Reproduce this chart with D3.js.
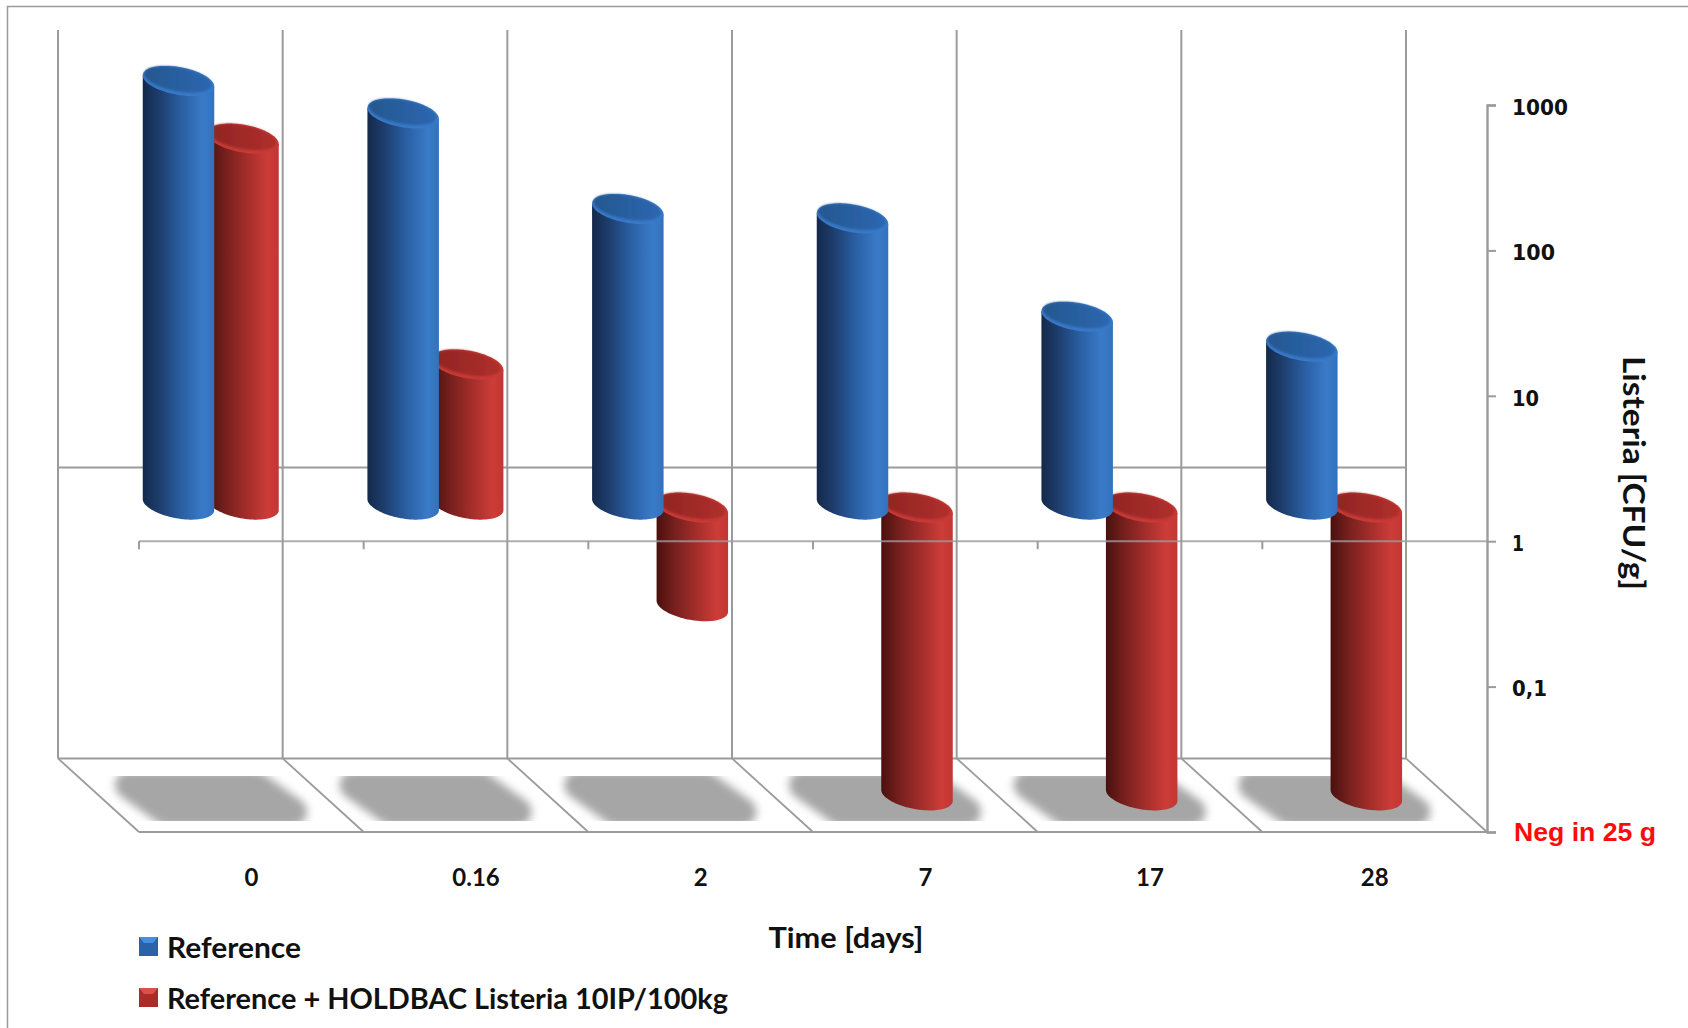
<!DOCTYPE html>
<html>
<head>
<meta charset="utf-8">
<script src="https://cdn.jsdelivr.net/npm/d3@7"></script>
<style>
  html, body { margin: 0; padding: 0; background: #fff; }
  svg { display: block; }
  text { font-family: Lato, "Open Sans", sans-serif; font-weight: 700; fill: #111; }
</style>
</head>
<body>
<svg id="chart" width="1688" height="1028"></svg>
<script>
// Data
const categories = ['0', '0.16', '2', '7', '17', '28'];
const seriesNames = ['Reference', 'Reference + HOLDBAC Listeria 10IP/100kg'];
const referenceValues = [820, 490, 108, 93, 19.6, 12.2];
const holdbacValues = [329, 9.2, 0.2, 0.01, 0.01, 0.01];
const yTicks = [1000, 100, 10, 1, 0.1, 0.01];
const yTickLabels = ['1000', '100', '10', '1', '0,1', 'Neg in 25 g'];

const GRID = '#9b9b9b';
const svg = d3.select('#chart');

// Scales
const y = d3.scaleLog().domain([0.01, 1000]).range([832, 105]);
const x = d3.scaleBand().domain(categories).range([139, 1487]);
const seriesX = d3.scalePoint().domain(seriesNames).range([0, 64.5]);

const wallDx = -81, wallDy = -73.6;     // front plane -> back wall
const barDy = -36.6;                    // bars stand half way into the depth
const wallTop = 30;
const floorFront = y(0.01), floorBack = floorFront + wallDy;
const baseFront = y(1), baseBack = baseFront + wallDy;
const barY = v => y(v) + barDy;
const edges = categories.map(c => x(c)).concat(x.range()[1]);

// Gradients and filters
const defs = svg.append('defs');
function hGradient(id, stops) {
  const g = defs.append('linearGradient').attr('id', id);
  stops.forEach(s => g.append('stop').attr('offset', s[0]).attr('stop-color', s[1]));
}
hGradient('bodyBlue', [[0, '#14294a'], [0.25, '#1e3f70'], [0.55, '#2a60a5'], [0.85, '#3a7bc9'], [1, '#3271bc']]);
hGradient('bodyRed', [[0, '#4a100e'], [0.25, '#75201d'], [0.55, '#a32d2a'], [0.85, '#cd3c39'], [1, '#c23633']]);
hGradient('capBlue', [[0, '#25578f'], [1, '#2c67b0']]);
hGradient('capRed', [[0, '#8f2522'], [1, '#b02f2c']]);
defs.append('filter').attr('id', 'shadowBlur').attr('x', '-20%').attr('y', '-30%').attr('width', '140%').attr('height', '160%')
  .append('feGaussianBlur').attr('stdDeviation', 4);
defs.append('filter').attr('id', 'capBlur').attr('x', '-20%').attr('y', '-30%').attr('width', '140%').attr('height', '160%')
  .append('feGaussianBlur').attr('stdDeviation', 1.2);

// Outer frame
svg.append('path').attr('d', 'M7.5,1028V6.5H1688').attr('fill', 'none').attr('stroke', '#9a9a9a').attr('stroke-width', 1.5);

// Back wall and floor
const grid = svg.append('g').attr('stroke', GRID).attr('fill', 'none');
grid.selectAll('line.wall').data(edges).enter().append('line').attr('class', 'wall')
  .attr('x1', d => d + wallDx).attr('x2', d => d + wallDx)
  .attr('y1', wallTop).attr('y2', floorBack).attr('stroke-width', 2);
grid.append('line').attr('x1', edges[0] + wallDx).attr('x2', edges[6] + wallDx)
  .attr('y1', baseBack).attr('y2', baseBack).attr('stroke-width', 2);
grid.append('line').attr('x1', edges[0] + wallDx).attr('x2', edges[6] + wallDx)
  .attr('y1', floorBack).attr('y2', floorBack).attr('stroke-width', 2);
grid.selectAll('line.diag').data(edges).enter().append('line').attr('class', 'diag')
  .attr('x1', d => d + wallDx).attr('x2', d => d)
  .attr('y1', floorBack).attr('y2', floorFront).attr('stroke-width', 1.8);

// Shadows on the floor
const shadowShape = [[-10, 785], [116, 785], [154, 812], [28, 812]];
svg.append('g').attr('filter', 'url(#shadowBlur)')
  .selectAll('path').data(categories).enter().append('path')
  .attr('d', c => d3.line()(shadowShape.map(p => [x(c) + p[0], p[1]])) + 'Z')
  .attr('fill', '#a6a6a6').attr('stroke', '#a6a6a6')
  .attr('stroke-width', 28).attr('stroke-linejoin', 'round');

// Floor front edge, y axis
grid.append('line').attr('x1', edges[0]).attr('x2', edges[6])
  .attr('y1', floorFront).attr('y2', floorFront).attr('stroke-width', 2);

// Cylinders
const A = 35.75, B = 14, TILT = 5.5;    // half width, half height of the cap, cap tilt
const thetas = d3.range(0, 1.0001, 1 / 48).map(f => Math.PI * (1 - f));
const arcPoint = (cx, cy, t, a, b, tilt) => [cx + a * Math.cos(t), cy + b * Math.sin(t) + tilt * Math.cos(t)];

function bodyPath(cx, top, bottom) {
  const pts = [[cx - A, top - TILT]].concat(thetas.map(t => arcPoint(cx, bottom, t, A, B, TILT)), [[cx + A, top + TILT]]);
  return d3.line()(pts) + 'Z';
}
function capPath(cx, cy, a, b, tilt) {
  const pts = d3.range(0, 96).map(i => arcPoint(cx, cy, i / 96 * 2 * Math.PI, a, b, tilt));
  return d3.line()(pts) + 'Z';
}
function drawBars(name, values, key, rim) {
  const g = svg.append('g').attr('class', 'series');
  const bars = g.selectAll('g').data(categories.map((c, i) => ({ c, v: values[i] }))).enter().append('g')
    .each(function (d) {
      d.cx = x(d.c) + 3.75 + seriesX(name) + A;
      // bars under 1 hang from the base plane, their cap sits a little lower
      d.top = d.v < 1 ? barY(1) + 3 : barY(d.v);
      d.bottom = d.v < 1 ? barY(d.v) : barY(1);
    });
  bars.append('path').attr('d', d => bodyPath(d.cx, d.top, d.bottom)).attr('fill', `url(#body${key})`);
  bars.append('path').attr('d', d => capPath(d.cx, d.top, A, B, TILT)).attr('fill', rim);
  bars.append('path').attr('d', d => capPath(d.cx - 0.5, d.top - 1.6, A - 2, B - 2, TILT))
    .attr('fill', `url(#cap${key})`).attr('filter', 'url(#capBlur)');
}
drawBars(seriesNames[1], holdbacValues, 'Red', '#c93a37');
drawBars(seriesNames[0], referenceValues, 'Blue', '#3879c8');

// Front line at 1 runs across the bars
svg.append('line').attr('x1', edges[0]).attr('x2', edges[6]).attr('y1', baseFront).attr('y2', baseFront)
  .attr('stroke', GRID).attr('stroke-width', 2).attr('opacity', 0.8);
svg.append('g').selectAll('line').data(edges.slice(0, 6)).enter().append('line')
  .attr('x1', d => d).attr('x2', d => d).attr('y1', baseFront).attr('y2', baseFront + 8)
  .attr('stroke', GRID).attr('stroke-width', 2);

// Y axis
const yAxis = svg.append('g').attr('transform', `translate(${x.range()[1]},0)`)
  .call(d3.axisRight(y).tickValues(yTicks).tickSize(9).tickPadding(16)
    .tickFormat(d => yTickLabels[yTicks.indexOf(d)]));
yAxis.select('.domain').attr('stroke', GRID).attr('stroke-width', 2.4);
yAxis.selectAll('.tick line').attr('stroke', GRID).attr('stroke-width', 2);
const yLabelWidths = [56, 43, 27, 12, 35, 142];
yAxis.selectAll('.tick text')
  .style('font-family', '"DejaVu Sans", sans-serif')
  .style('font-size', '22px')
  .style('fill', '#111')
  .attr('dy', '0.42em')
  .attr('textLength', (d, i) => yLabelWidths[i])
  .attr('lengthAdjust', 'spacingAndGlyphs');
yAxis.selectAll('.tick').filter(d => d === 0.01).select('text')
  .attr('x', 27)
  .attr('dy', '0.34em')
  .style('font-family', '"Liberation Sans", sans-serif')
  .style('font-size', '26px')
  .style('fill', '#fb0d0d');

// X axis labels
const xAxis = svg.append('g').attr('transform', `translate(0,${floorFront})`)
  .call(d3.axisBottom(x).tickSize(0).tickPadding(37));
xAxis.select('.domain').remove();
xAxis.selectAll('.tick text').style('font-family', 'Lato, sans-serif').style('font-size', '24px').style('fill', '#111');

// Axis titles
svg.append('text').attr('x', 846).attr('y', 948).attr('text-anchor', 'middle')
  .attr('font-size', 28).attr('textLength', 155).attr('lengthAdjust', 'spacingAndGlyphs').text('Time [days]');
svg.append('text').attr('transform', 'translate(1623,473) rotate(90)').attr('text-anchor', 'middle')
  .attr('font-size', 30).attr('textLength', 234).attr('lengthAdjust', 'spacingAndGlyphs').text('Listeria [CFU/g]');

// Legend
const legendY = d3.scalePoint().domain(seriesNames).range([937, 988]);
const legendColors = { [seriesNames[0]]: ['#2a62a8', '#4a8ddd'], [seriesNames[1]]: ['#a92c29', '#d9504c'] };
const legend = svg.append('g').selectAll('g').data(seriesNames).enter().append('g')
  .attr('transform', d => `translate(139,${legendY(d)})`);
legend.append('rect').attr('width', 19).attr('height', 19).attr('fill', d => legendColors[d][0]);
legend.append('path').attr('d', 'M0,0H19L14,6H5Z').attr('fill', d => legendColors[d][1]);
legend.append('text').attr('x', 28).attr('y', 21).attr('font-size', 28)
  .attr('textLength', (d, i) => i === 0 ? 134 : 561).attr('lengthAdjust', 'spacingAndGlyphs').text(d => d);
</script>
</body>
</html>
